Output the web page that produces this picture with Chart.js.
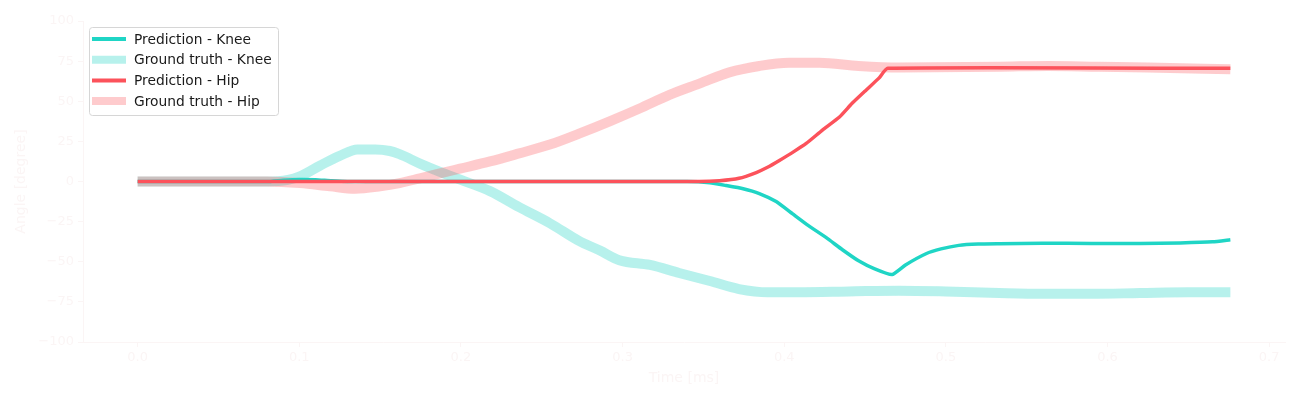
<!DOCTYPE html>
<html>
<head>
<meta charset="utf-8">
<script src="https://cdn.jsdelivr.net/npm/chart.js@4.4.0/dist/chart.umd.min.js"></script>
<style>
  body { margin: 0; background: #fff; }
  canvas { display: block; }
</style>
</head>
<body>
<canvas id="myChart" width="1300" height="400"></canvas>
<script>
// Knee angle, prediction (time in ms, angle in degree)
const kneePredTime = [0, 0.08, 0.09, 0.1, 0.11, 0.12, 0.13, 0.34, 0.354, 0.364, 0.3746, 0.3846, 0.395, 0.405, 0.415, 0.426, 0.436, 0.446, 0.456, 0.4667, 0.475, 0.4877, 0.497, 0.508, 0.52, 0.533, 0.56, 0.59, 0.62, 0.645, 0.665, 0.676];
const kneePredAngle = [0, 0, 0.8, 1.3, 1.1, 0.4, 0, 0, -0.8, -2.5, -4.5, -7.5, -12.5, -20, -27.5, -35, -42.5, -49.4, -54.5, -58, -52, -45, -42, -39.8, -39, -38.8, -38.5, -38.6, -38.7, -38.3, -37.6, -36.3];

// Knee angle, ground truth
const kneeTruthTime = [0, 0.08, 0.093, 0.1, 0.113, 0.125, 0.136, 0.147, 0.156, 0.162, 0.175, 0.187, 0.2, 0.218, 0.236, 0.255, 0.273, 0.286, 0.298, 0.317, 0.335, 0.354, 0.372, 0.39, 0.409, 0.44, 0.471, 0.5, 0.533, 0.56, 0.59, 0.62, 0.65, 0.676];
const kneeTruthAngle = [0, 0, 1, 3, 10, 16, 20, 20, 19, 17, 11, 6, 1, -6, -16, -26, -37, -43, -49, -52, -57, -62, -67, -69, -69, -68.5, -68, -68.5, -69.5, -70, -70, -69.5, -69, -69];

// Hip angle, prediction
const hipPredTime = [0, 0.3475, 0.36, 0.372, 0.3827, 0.39, 0.397, 0.405, 0.4136, 0.4235, 0.434, 0.442, 0.4506, 0.4586, 0.464, 0.676];
const hipPredAngle = [0, 0, 0.5, 2, 5.6, 9, 13.1, 18, 23.7, 31.9, 40, 48.7, 56.9, 64.4, 70.5, 70.5];

// Hip angle, ground truth
const hipTruthTime = [0, 0.08, 0.1006, 0.119, 0.1346, 0.15, 0.162, 0.1747, 0.187, 0.1994, 0.218, 0.236, 0.255, 0.2735, 0.292, 0.3105, 0.329, 0.3475, 0.366, 0.3846, 0.403, 0.4216, 0.446, 0.471, 0.533, 0.5636, 0.594, 0.625, 0.676];
const hipTruthAngle = [0, 0, -1, -3, -4.5, -3, -1, 2, 5, 8, 12.5, 17.5, 23, 30, 37.5, 45.5, 54, 61, 68, 72, 74, 74, 72, 71, 71.5, 72, 71.5, 71, 70];

const xTicks = [0, 0.1, 0.2, 0.3, 0.4, 0.5, 0.6, 0.7];
const yTicks = [-100, -75, -50, -25, 0, 25, 50, 75, 100];

const faint = '#fbf5f5';
const tickFont = { family: 'DejaVu Sans', size: 13 };

function toPoints(times, values) {
    return times.map((t, i) => ({ x: t, y: values[i] }));
}

// legend drawn inside the plot, matplotlib style
const boxLegend = {
    id: 'boxLegend',
    afterDraw(chart) {
        const ctx = chart.ctx;
        const x0 = 89, y0 = 27, w = 189, h = 88;
        ctx.save();
        ctx.beginPath();
        ctx.roundRect(x0 + 0.5, y0 + 0.5, w, h, 3);
        ctx.fillStyle = 'rgba(255,255,255,0.8)';
        ctx.fill();
        ctx.strokeStyle = '#d6d6d6';
        ctx.lineWidth = 1;
        ctx.stroke();
        ctx.font = '13.8px "DejaVu Sans"';
        ctx.textBaseline = 'middle';
        chart.data.datasets.forEach((ds, i) => {
            const yy = y0 + 12 + i * 20.7;
            ctx.beginPath();
            ctx.moveTo(x0 + 3, yy);
            ctx.lineTo(x0 + 37, yy);
            ctx.strokeStyle = ds.borderColor;
            ctx.lineWidth = ds.legendWidth;
            ctx.stroke();
            ctx.fillStyle = '#1a1a1a';
            ctx.fillText(ds.label, x0 + 45, yy + 1);
        });
        ctx.restore();
    }
};

const ctx = document.getElementById('myChart').getContext('2d');
const myChart = new Chart(ctx, {
    type: 'line',
    data: {
        datasets: [
            {
                label: 'Prediction - Knee',
                data: toPoints(kneePredTime, kneePredAngle),
                borderColor: '#1fd5c5',
                borderWidth: 3.5,
                legendWidth: 4,
                tension: 0.15,
                order: 1,
            },
            {
                label: 'Ground truth - Knee',
                data: toPoints(kneeTruthTime, kneeTruthAngle),
                borderColor: 'rgba(31,213,197,0.32)',
                borderWidth: 10,
                legendWidth: 8,
                cubicInterpolationMode: 'monotone',
                order: 3,
            },
            {
                label: 'Prediction - Hip',
                data: toPoints(hipPredTime, hipPredAngle),
                borderColor: '#fc525b',
                borderWidth: 3.5,
                legendWidth: 4,
                tension: 0.15,
                order: 0,
            },
            {
                label: 'Ground truth - Hip',
                data: toPoints(hipTruthTime, hipTruthAngle),
                borderColor: 'rgba(252,82,91,0.3)',
                borderWidth: 10,
                legendWidth: 8,
                cubicInterpolationMode: 'monotone',
                order: 2,
            },
        ],
    },
    options: {
        responsive: false,
        animation: false,
        elements: {
            point: { radius: 0 },
            line: { borderCapStyle: 'butt', borderJoinStyle: 'round' },
        },
        layout: { padding: { top: 21, right: 15, left: 0, bottom: 0 } },
        scales: {
            x: {
                type: 'linear',
                min: -0.0338,
                max: 0.7098,
                afterBuildTicks: (scale) => {
                    scale.ticks = xTicks.map(v => ({ value: v }));
                },
                afterFit: (scale) => { scale.height = 58; },
                ticks: {
                    color: faint,
                    font: tickFont,
                    padding: 3,
                    maxRotation: 0,
                    callback: (value) => value.toFixed(1),
                },
                grid: {
                    drawOnChartArea: false,
                    drawTicks: true,
                    tickLength: 5,
                    color: faint,
                },
                border: { display: true, color: faint },
                title: {
                    display: true,
                    text: 'Time [ms]',
                    color: faint,
                    font: { family: 'DejaVu Sans', size: 14 },
                    padding: { top: 4, bottom: 13 },
                },
            },
            y: {
                min: -100,
                max: 100,
                afterBuildTicks: (scale) => {
                    scale.ticks = yTicks.map(v => ({ value: v }));
                },
                afterFit: (scale) => { scale.width = 83; },
                ticks: {
                    color: faint,
                    font: tickFont,
                    padding: 4,
                    callback: (value) => String(value).replace('-', '\u2212'),
                },
                grid: {
                    drawOnChartArea: false,
                    drawTicks: true,
                    tickLength: 5,
                    color: faint,
                },
                border: { display: true, color: faint },
                title: {
                    display: true,
                    text: 'Angle [degree]',
                    color: faint,
                    font: { family: 'DejaVu Sans', size: 14 },
                    padding: { top: 13, bottom: 6 },
                },
            },
        },
        plugins: {
            legend: { display: false },
            tooltip: { enabled: false },
        },
    },
    plugins: [boxLegend],
});
</script>
</body>
</html>
